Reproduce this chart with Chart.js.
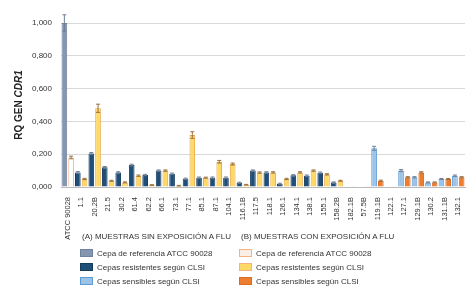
<!DOCTYPE html>
<html>
<head>
<meta charset="utf-8">
<script src="https://cdn.jsdelivr.net/npm/chart.js@4.4.1/dist/chart.umd.min.js"></script>
<style>
  body { margin: 0; background: #fff; font-family: "Liberation Sans", Arial, sans-serif; }
  #wrap { position: relative; width: 476px; height: 295px; }
  #chart { position: absolute; left: 0; top: 0; }
  .legend { position: absolute; font-size: 8px; color: #333; }
  .legend .head { height: 12px; line-height: 12px; margin-left: 2px; margin-bottom: 3px; }
  .legend .row { display: flex; align-items: center; height: 14px; }
  .legend .sw { width: 13px; height: 8px; box-sizing: border-box; margin-right: 4px; }
</style>
</head>
<body>
<div id="wrap">
  <canvas id="chart" width="476" height="295"></canvas>
  <div class="legend" style="left:80px; top:231px;">
    <div class="head">(A) MUESTRAS SIN EXPOSICIÓN A FLU</div>
    <div class="row"><div class="sw" style="background:#8496b0;border:1px solid #6f819b"></div>Cepa de referencia ATCC 90028</div>
    <div class="row"><div class="sw" style="background:#1f4e79;border:1px solid #173c5e"></div>Cepas resistentes según CLSI</div>
    <div class="row"><div class="sw" style="background:#9dc3e6;border:1px solid #5b9bd5"></div>Cepas sensibles según CLSI</div>
  </div>
  <div class="legend" style="left:239px; top:231px;">
    <div class="head">(B) MUESTRAS CON EXPOSICIÓN A FLU</div>
    <div class="row"><div class="sw" style="background:#fbeee6;border:1px solid #f4b183"></div>Cepa de referencia ATCC 90028</div>
    <div class="row"><div class="sw" style="background:#ffd966;border:1px solid #f4b183"></div>Cepas resistentes según CLSI</div>
    <div class="row"><div class="sw" style="background:#ed7d31;border:1px solid #e06a20"></div>Cepas sensibles según CLSI</div>
  </div>
</div>
<script>
// Strains (x axis)
const strains = ['ATCC 90028', '1.1', '20.2B', '21.5', '30.2', '61.4', '62.2', '66.1', '73.1', '77.1',
  '85.1', '87.1', '104.1', '116.1B', '117.5', '118.1', '126.1', '134.1', '138.1', '155.1',
  '158.2B', '182.1B', '57.5B', '119.1B', '122.1', '127.1', '129.1B', '130.2', '131.1B', '132.1'];

// ref = reference strain, res = resistant, sen = sensible
const strainType = ['ref',
  'res', 'res', 'res', 'res', 'res', 'res', 'res', 'res', 'res', 'res',
  'res', 'res', 'res', 'res', 'res', 'res', 'res', 'res', 'res', 'res',
  'sen', 'sen', 'sen', 'sen', 'sen', 'sen', 'sen', 'sen', 'sen'];

// RQ values, (A) without FLU exposure
const rqSinFlu = [1.000, 0.089, 0.205, 0.120, 0.089, 0.134, 0.073, 0.100, 0.081, 0.050,
  0.057, 0.057, 0.057, 0.026, 0.100, 0.089, 0.020, 0.071, 0.069, 0.087,
  0.028, 0.003, 0.003, 0.236, 0.003, 0.100, 0.059, 0.028, 0.049, 0.069];
const errSinFlu = [0.050, 0.005, 0.005, 0.005, 0.004, 0.005, 0.004, 0.004, 0.004, 0.004,
  0.004, 0.004, 0.004, 0.003, 0.004, 0.004, 0.003, 0.004, 0.004, 0.004,
  0.003, 0, 0, 0.012, 0, 0.006, 0.004, 0.003, 0.003, 0.004];

// RQ values, (B) with FLU exposure
const rqConFlu = [0.180, 0.049, 0.480, 0.038, 0.028, 0.069, 0.012, 0.100, 0.008, 0.317,
  0.057, 0.154, 0.140, 0.014, 0.088, 0.089, 0.049, 0.089, 0.100, 0.077,
  0.038, 0.002, 0.002, 0.038, 0.002, 0.059, 0.089, 0.028, 0.049, 0.059];
const errConFlu = [0.008, 0.004, 0.025, 0.003, 0.003, 0.004, 0.002, 0.004, 0.002, 0.020,
  0.003, 0.008, 0.006, 0.002, 0.004, 0.004, 0.004, 0.004, 0.004, 0.004,
  0.003, 0, 0, 0.004, 0, 0.004, 0.004, 0.003, 0.003, 0.004];

const yTicks = [0, 0.2, 0.4, 0.6, 0.8, 1.0];

const colorsA = { ref: '#8496b0', res: '#1f4e79', sen: '#9dc3e6' };
const bordersA = { ref: '#6f819b', res: '#173c5e', sen: '#5b9bd5' };
const colorsB = { ref: '#ffffff', res: '#ffd966', sen: '#ed7d31' };
const bordersB = { ref: '#f4b183', res: '#e8a84a', sen: '#e06a20' };

// Draws the error bars and the mixed-style y title
const extrasPlugin = {
  id: 'extras',
  afterDatasetsDraw(chart) {
    const ctx = chart.ctx;
    const y = chart.scales.y;
    const errs = [errSinFlu, errConFlu];
    const cols = ['#6f7f95', '#9a7040'];
    chart.data.datasets.forEach((ds, d) => {
      const meta = chart.getDatasetMeta(d);
      meta.data.forEach((bar, i) => {
        const e = errs[d][i];
        if (!e) return;
        const v = ds.data[i];
        const y0 = y.getPixelForValue(v - e);
        const y1 = y.getPixelForValue(v + e);
        ctx.save();
        ctx.strokeStyle = cols[d];
        ctx.lineWidth = 1;
        ctx.beginPath();
        ctx.moveTo(bar.x, y0);
        ctx.lineTo(bar.x, y1);
        ctx.moveTo(bar.x - 2, y1);
        ctx.lineTo(bar.x + 2, y1);
        ctx.moveTo(bar.x - 2, y0);
        ctx.lineTo(bar.x + 2, y0);
        ctx.stroke();
        ctx.restore();
      });
    });

    // y axis title: "RQ GEN " bold + "CDR1" bold italic
    const cy = (chart.chartArea.top + chart.chartArea.bottom) / 2;
    ctx.save();
    ctx.translate(19, cy);
    ctx.rotate(-Math.PI / 2);
    ctx.fillStyle = '#222';
    ctx.textBaseline = 'middle';
    const p1 = 'RQ GEN ';
    const p2 = 'CDR1';
    ctx.font = 'bold 10px "Liberation Sans", Arial, sans-serif';
    const w1 = ctx.measureText(p1).width;
    ctx.font = 'italic bold 10px "Liberation Sans", Arial, sans-serif';
    const w2 = ctx.measureText(p2).width;
    const start = -(w1 + w2) / 2;
    ctx.textAlign = 'left';
    ctx.font = 'bold 10px "Liberation Sans", Arial, sans-serif';
    ctx.fillText(p1, start, 0);
    ctx.font = 'italic bold 10px "Liberation Sans", Arial, sans-serif';
    ctx.fillText(p2, start + w1, 0);
    ctx.restore();
  }
};

new Chart(document.getElementById('chart'), {
  type: 'bar',
  data: {
    labels: strains,
    datasets: [{
      label: '(A) Muestras sin exposición a FLU',
      data: rqSinFlu,
      backgroundColor: strainType.map(t => colorsA[t]),
      borderColor: strainType.map(t => bordersA[t]),
      borderWidth: 1,
      barPercentage: 0.84,
      categoryPercentage: 1.0
    }, {
      label: '(B) Muestras con exposición a FLU',
      data: rqConFlu,
      backgroundColor: strainType.map(t => colorsB[t]),
      borderColor: strainType.map(t => bordersB[t]),
      borderWidth: 1,
      barPercentage: 0.84,
      categoryPercentage: 1.0
    }]
  },
  options: {
    responsive: false,
    animation: false,
    layout: { padding: { top: 23, right: 11, left: 0, bottom: 0 } },
    plugins: {
      legend: { display: false },
      tooltip: { enabled: false }
    },
    scales: {
      x: {
        grid: { display: false },
        border: { color: '#bbbbbb' },
        ticks: {
          autoSkip: false,
          minRotation: 90,
          maxRotation: 90,
          padding: 2,
          color: '#333',
          font: { family: '"Liberation Sans", Arial, sans-serif', size: 7.5 }
        },
        afterFit: s => { s.height = 108; }
      },
      y: {
        min: 0,
        max: 1.0,
        afterBuildTicks: s => { s.ticks = yTicks.map(v => ({ value: v })); },
        grid: { color: '#d9d9d9', drawTicks: false },
        border: { display: false },
        ticks: {
          padding: 9,
          color: '#333',
          font: { family: '"Liberation Sans", Arial, sans-serif', size: 8 },
          callback: v => v.toFixed(3).replace('.', ',')
        },
        afterFit: s => { s.width = 61; }
      }
    }
  },
  plugins: [extrasPlugin]
});
</script>
</body>
</html>
